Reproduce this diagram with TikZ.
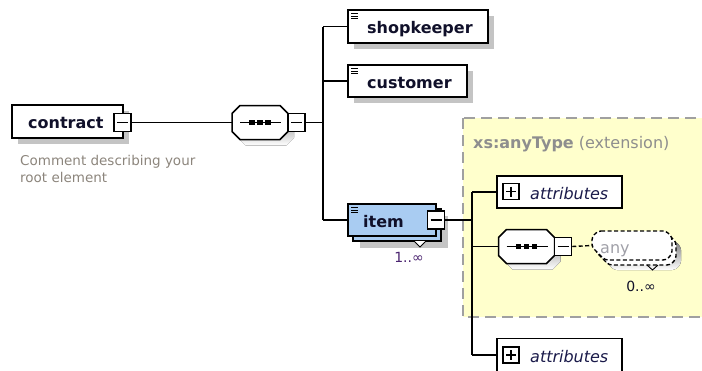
\documentclass[tikz,border=0pt]{standalone}
\usepackage{fontspec}
\setmainfont{DejaVu Sans}
\usetikzlibrary{shadows}

\definecolor{shade}{HTML}{C4C4C4}
\definecolor{itemblue}{HTML}{A9CCF2}
\definecolor{extyellow}{HTML}{FFFFCC}
\definecolor{extborder}{HTML}{A0A0A0}
\definecolor{exttext}{HTML}{8E8E8E}
\definecolor{note}{HTML}{8C857C}
\definecolor{ink}{HTML}{10102A}
\definecolor{attrink}{HTML}{1A1A4A}
\definecolor{occur}{HTML}{4B2470}
\definecolor{anyink}{HTML}{A0A0A8}

\tikzset{
  box/.style={rectangle, draw=black, fill=white, line width=1.5pt, inner sep=0pt},
  shade6/.style={general shadow={fill=shade, draw=none, shadow xshift=6pt, shadow yshift=-6pt}},
  elemicon/.style={path picture={
      \foreach \d in {3.5,6,8.5}
        \draw[line width=1pt] ([xshift=3pt,yshift=-\d pt]path picture bounding box.north west) -- ++(7,0);}},
  elem/.style={box, shade6, elemicon},
  namefont/.style={anchor=base west, inner sep=0pt, text=ink,
      font=\fontsize{16}{19}\selectfont\bfseries},
  attrfont/.style={anchor=base west, inner sep=0pt, text=attrink,
      font=\fontsize{16}{19}\selectfont\itshape},
  minusbox/.style={box, minimum width=17pt, minimum height=18pt, path picture={
      \draw[line width=1.4pt] ([xshift=3pt]path picture bounding box.west)
        -- ([xshift=-3pt]path picture bounding box.east);}},
  plusbox/.style={box, minimum width=16pt, minimum height=16pt, path picture={
      \draw[line width=1.4pt] ([xshift=3pt]path picture bounding box.west)
        -- ([xshift=-3pt]path picture bounding box.east);
      \draw[line width=1.4pt] ([yshift=-3pt]path picture bounding box.north)
        -- ([yshift=3pt]path picture bounding box.south);}},
  seqslot/.style={inner sep=0pt, minimum width=56pt, minimum height=34pt},
  occfont/.style={inner sep=0pt, font=\fontsize{14}{16}\selectfont},
  wire/.style={draw=black, line width=1.5pt},
  anydash/.style={line width=1.4pt, dash pattern=on 4pt off 2.5pt},
}

% octagon of a sequence compositor, 56 x 34 with 8 chamfers, centred at (#1,#2)
\def\octpath#1#2{(#1-20,#2-17) -- (#1+20,#2-17) -- (#1+28,#2-9) -- (#1+28,#2+9)
  -- (#1+20,#2+17) -- (#1-20,#2+17) -- (#1-28,#2+9) -- (#1-28,#2-9) -- cycle}

% sequence compositor: shadow, outline and the three dots
\newcommand\seqshape[3]{%
  \fill[shade, shift={(6,6)}] \octpath{#2}{#3};
  \filldraw[fill=white, draw=black, line width=1.5pt] \octpath{#2}{#3};
  \node[seqslot] (#1) at (#2,#3) {};
  \draw[line width=1.5pt] ([xshift=-20pt]#1.center) -- ([xshift=21pt]#1.center);
  \foreach \dx in {-8,0,8}
    \fill ([xshift=\dx pt]#1.center) +(-2.7,-2.7) rectangle +(2.7,2.7);}

% outline of the wildcard element
\def\anypath{[rounded corners=3pt] (598,231) -- (666,231) -- (672,237) -- (672,254)
  -- (666,260) -- (605,260) -- (592,247) -- (592,237) -- cycle}

\begin{document}
\begin{tikzpicture}[x=1pt, y=-1pt]
\useasboundingbox (0,0) rectangle (702,370);
\clip (0,0) rectangle (702,370);

% extension frame
\path[fill=extyellow, draw=extborder, line width=1.8pt, dash pattern=on 11pt off 6pt]
  (463,118) rectangle (712,317);
\node[anchor=base west, inner sep=0pt, text=exttext, font=\fontsize{16}{19}\selectfont]
  (exttitle) at (473,148) {\textbf{xs:anyType} (extension)};

% root element
\node[box, shade6, minimum width=111pt, minimum height=33pt] (contract) at (67.5,121.5) {};
\node[namefont] (contractt) at (28,128) {contract};
\node[minusbox] (cminus) at (122.5,122.5) {};
\node[anchor=base west, inner sep=0pt, text=note, font=\fontsize{13.5}{17}\selectfont]
  (note1) at (20,165) {Comment describing your};
\node[anchor=base west, inner sep=0pt, text=note, font=\fontsize{13.5}{17}\selectfont]
  (note2) at (20,182) {root element};

% first sequence
\seqshape{seq1}{260}{122.5}
\node[minusbox] (s1minus) at (296.5,122.5) {};
\draw[wire] (cminus.east) -- (seq1.west);

% child elements
\node[elem, minimum width=140pt, minimum height=33pt] (shop) at (418,26.5) {};
\node[namefont] (shopt) at (367,33.5) {shopkeeper};
\node[elem, minimum width=119pt, minimum height=32pt] (cust) at (407.5,81) {};
\node[namefont] (custt) at (367,88) {customer};

\node[box, fill=itemblue, elemicon, minimum width=88pt, minimum height=32pt,
  general shadow={fill=shade, draw=none, shadow xshift=12pt, shadow yshift=-12pt},
  general shadow={fill=itemblue, draw=black, line width=1.5pt, shadow xshift=5pt, shadow yshift=-5pt}]
  (item) at (392,220) {};
\node[namefont] (itemt) at (363,227) {item};
\filldraw[fill=white, draw=black, line width=0.9pt] (414,241) -- (420,247) -- (426,241);
\node[minusbox] (iminus) at (436,220) {};
\node[occfont, text=occur] (itemocc) at (409,257) {1..∞};

\coordinate (bus1) at (323,122.5);
\draw[wire] (s1minus.east) -- (bus1);
\draw[wire] (bus1 |- shop.west) -- (bus1 |- item.west);
\draw[wire] (bus1 |- shop.west) -- (shop.west);
\draw[wire] (bus1 |- cust.west) -- (cust.west);
\draw[wire] (bus1 |- item.west) -- (item.west);

% content of the extension
\node[box, minimum width=125pt, minimum height=32pt] (attr1) at (559.5,192) {};
\node[plusbox] (plus1) at (511,191.5) {};
\node[attrfont] (attr1t) at (530,199) {attributes};

\seqshape{seq2}{526.5}{246.5}
\node[minusbox] (s2minus) at (563,246.5) {};

\fill[shade, shift={(9,10)}] \anypath;
\filldraw[fill=white, draw=black, anydash, shift={(4,5)}] \anypath;
\filldraw[fill=white, draw=black, anydash] \anypath;
\node[inner sep=0pt, minimum width=80pt, minimum height=29pt] (any) at (632,245.5) {};
\node[anchor=base west, inner sep=0pt, text=anyink, font=\fontsize{16}{19}\selectfont]
  (anyt) at (600,253) {any};
\draw[black, line width=0.9pt] (647,265) -- (652.5,270) -- (658,265);
\node[occfont, text=ink] (anyocc) at (641,286) {0..∞};
\draw[anydash] (s2minus.east) -- (any.west);

\node[box, minimum width=125pt, minimum height=33pt] (attr2) at (559.5,355) {};
\node[plusbox] (plus2) at (511,355) {};
\node[attrfont] (attr2t) at (530,362) {attributes};

\coordinate (bus2) at (472,220);
\draw[wire] (iminus.east) -- (bus2);
\draw[wire] (bus2 |- attr1.west) -- (bus2 |- attr2.west);
\draw[wire] (bus2 |- attr1.west) -- (attr1.west);
\draw[wire] (bus2 |- seq2.west) -- (seq2.west);
\draw[wire] (bus2 |- attr2.west) -- (attr2.west);
\end{tikzpicture}
\end{document}
